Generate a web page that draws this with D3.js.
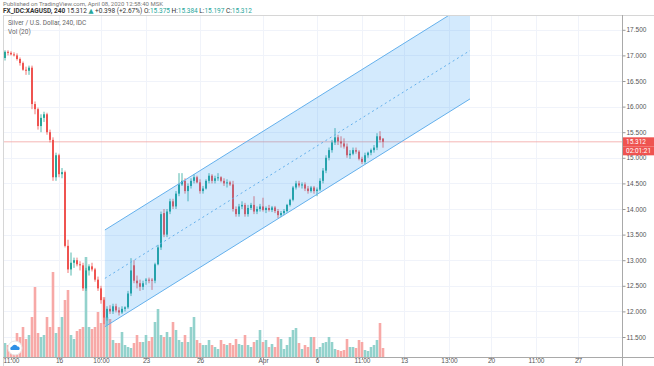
<!DOCTYPE html>
<html>
<head>
<meta charset="utf-8">
<script src="https://cdn.jsdelivr.net/npm/d3@7"></script>
<style>
  body { margin: 0; background: #fff; }
  svg { display: block; font-family: Roboto, "DejaVu Sans", sans-serif; }
</style>
</head>
<body>
<div id="chart"></div>
<script>
// 4h bars, XAGUSD, [open, high, low, close]
const candles = [
  [16.95,17.10,16.90,17.07],[17.07,17.10,17.00,17.05],[17.05,17.08,17.00,17.02],[17.02,17.06,16.98,17.00],
  [17.00,17.04,16.90,16.93],[16.93,16.96,16.80,16.85],[16.85,16.88,16.70,16.72],[16.72,16.78,16.62,16.70],
  [16.70,16.80,16.62,16.76],[16.76,16.80,15.95,16.05],[16.05,16.10,15.85,15.95],[15.95,15.98,15.55,15.62],
  [15.62,15.85,15.50,15.78],[15.78,15.90,15.70,15.85],[15.85,15.88,15.45,15.50],[15.50,15.55,15.30,15.35],
  [15.35,15.40,14.55,14.62],[14.62,15.10,14.55,15.05],[15.05,15.08,14.62,14.68],[14.68,14.80,14.60,14.72],
  [14.72,14.75,13.25,13.28],[13.28,13.40,12.75,12.82],[12.82,13.15,12.70,12.95],[12.95,13.05,12.85,13.00],
  [13.00,13.05,12.88,12.92],[12.92,12.98,12.80,12.90],[12.90,12.95,12.40,12.45],[12.45,12.85,12.40,12.80],
  [12.80,12.92,12.70,12.88],[12.88,12.95,12.78,12.82],[12.82,12.85,12.58,12.62],[12.62,12.68,12.40,12.45],
  [12.45,12.50,12.15,12.22],[12.22,12.25,11.75,11.88],[11.88,12.10,11.82,12.05],[12.05,12.12,11.95,12.00],
  [12.00,12.15,11.95,12.10],[12.10,12.15,11.98,12.02],[12.02,12.08,11.92,11.98],[11.98,12.10,11.95,12.05],
  [12.05,12.10,12.00,12.08],[12.08,12.40,12.05,12.35],[12.35,13.04,12.30,12.80],[12.90,13.00,12.55,12.60],
  [12.60,12.70,12.45,12.55],[12.55,12.62,12.40,12.48],[12.48,12.60,12.42,12.55],[12.60,12.65,12.52,12.62],
  [12.62,12.66,12.55,12.60],[12.62,12.65,12.42,12.60],[12.60,12.95,12.55,12.92],[12.92,13.30,12.90,13.25],
  [13.25,13.95,13.20,13.90],[13.92,14.00,13.45,13.50],[13.50,14.00,13.45,13.95],[13.95,14.20,13.90,14.15],
  [14.15,14.20,14.00,14.05],[14.05,14.35,14.00,14.30],[14.30,14.70,14.25,14.48],[14.48,14.70,14.45,14.55],
  [14.55,14.60,14.30,14.35],[14.35,14.50,14.15,14.45],[14.45,14.60,14.40,14.55],[14.55,14.68,14.50,14.62],
  [14.62,14.65,14.50,14.52],[14.52,14.58,14.30,14.35],[14.35,14.45,14.30,14.40],[14.40,14.58,14.38,14.55],
  [14.55,14.70,14.50,14.65],[14.65,14.68,14.50,14.55],[14.55,14.65,14.50,14.60],[14.60,14.70,14.55,14.62],
  [14.62,14.64,14.52,14.55],[14.55,14.60,14.45,14.50],[14.50,14.58,14.42,14.52],[14.52,14.55,14.45,14.48],
  [14.48,14.55,13.95,14.00],[14.00,14.05,13.85,13.90],[13.90,14.10,13.85,14.05],[14.05,14.15,14.00,14.08],
  [14.08,14.12,13.85,13.90],[13.90,14.08,13.85,14.02],[14.02,14.12,13.98,14.08],[14.08,14.25,13.90,13.95],
  [13.95,14.05,13.90,14.00],[14.00,14.10,13.95,14.05],[14.05,14.22,13.95,13.98],[13.98,14.05,13.92,14.02],
  [14.02,14.08,13.95,13.98],[13.98,14.06,13.94,14.03],[14.03,14.06,13.92,13.96],[13.96,14.00,13.82,13.88],
  [13.88,13.96,13.84,13.92],[13.92,14.00,13.88,13.96],[13.96,14.10,13.93,14.08],[14.08,14.20,14.05,14.18],
  [14.18,14.45,14.15,14.42],[14.42,14.55,14.38,14.50],[14.50,14.55,14.42,14.46],[14.46,14.52,14.40,14.48],
  [14.48,14.52,14.35,14.40],[14.40,14.45,14.30,14.35],[14.35,14.45,14.32,14.42],[14.42,14.45,14.30,14.35],
  [14.35,14.42,14.25,14.38],[14.38,14.60,14.35,14.55],[14.55,14.80,14.50,14.75],[14.75,15.05,14.70,15.00],
  [15.00,15.20,14.95,15.15],[15.15,15.35,15.10,15.30],[15.30,15.58,15.25,15.40],[15.40,15.45,15.25,15.32],
  [15.32,15.42,15.20,15.28],[15.28,15.38,15.18,15.22],[15.22,15.28,15.00,15.05],[15.05,15.15,14.98,15.08],
  [15.08,15.20,15.05,15.15],[15.15,15.20,15.08,15.12],[15.12,15.15,14.95,14.98],[14.98,15.02,14.88,14.92],
  [14.92,15.10,14.88,15.05],[15.05,15.12,15.00,15.10],[15.10,15.18,15.05,15.15],[15.15,15.25,15.10,15.20],
  [15.20,15.48,15.15,15.42],[15.42,15.52,15.30,15.35],[15.375,15.384,15.197,15.312]
];

const volumes = [
  14,12,10,16,24,20,30,18,22,40,70,24,20,22,40,30,
  85,24,30,40,57,67,22,18,26,28,30,100,30,28,30,45,
  34,60,40,38,17,14,14,25,12,10,9,14,22,15,15,22,
  16,20,35,48,22,20,25,20,35,27,17,15,22,15,30,40,
  17,14,12,12,17,12,10,8,17,13,12,14,12,18,13,12,
  22,12,10,15,17,27,15,17,10,13,10,20,18,8,12,20,
  27,29,14,8,12,10,20,20,8,10,14,15,20,15,8,7,
  6,7,18,10,10,9,17,15,7,6,10,12,17,34,9
];

const priceTicks = [11.5, 12, 12.5, 13, 13.5, 14, 14.5, 15, 15.5, 16, 16.5, 17, 17.5];

const timeTicks = [
  { bar: 2, label: "11:00" }, { bar: 18, label: "16" }, { bar: 32, label: "10:00" },
  { bar: 47, label: "23" }, { bar: 65, label: "26" }, { bar: 86, label: "Apr" },
  { bar: 104, label: "6" }, { bar: 119, label: "11:00" }, { bar: 133, label: "13" },
  { bar: 148, label: "13:00" }, { bar: 162, label: "20" }, { bar: 177, label: "11:00" },
  { bar: 191, label: "27" }
];

// parallel channel anchors: bar index, lower price, upper price
const channelBars = [33.3, 155];
const channelLower = [11.70, 16.15];
const channelUpper = [13.59, 18.04];

const lastPrice = 15.312;
const countdown = "02:01:21";

const W = 654, H = 366;
const up = "#26a69a", down = "#ef5350";
const upVol = "#93d2cc", downVol = "#f7a9a7";

const svg = d3.select("#chart").append("svg")
  .attr("width", W).attr("height", H);

const pane = { left: 3, top: 15, right: 622, bottom: 357 };

const x = d3.scaleLinear().domain([0, 126]).range([5, 383]);
const y = d3.scaleLinear().domain([11.5, 17.5]).range([337, 29.8]);
const yVol = d3.scaleLinear().domain([0, 105]).range([pane.bottom, pane.bottom - 105]);

svg.append("defs").append("clipPath").attr("id", "clip")
  .append("rect")
  .attr("x", pane.left).attr("y", pane.top)
  .attr("width", pane.right - pane.left).attr("height", pane.bottom - pane.top);

// grid
const grid = svg.append("g").attr("clip-path", "url(#clip)");
grid.selectAll(".hg").data(priceTicks).enter().append("line")
  .attr("x1", pane.left).attr("x2", pane.right)
  .attr("y1", d => Math.round(y(d)) + 0.5).attr("y2", d => Math.round(y(d)) + 0.5)
  .attr("stroke", "#f0f3fa");
grid.selectAll(".vg").data(timeTicks).enter().append("line")
  .attr("x1", d => Math.round(x(d.bar)) + 0.5).attr("x2", d => Math.round(x(d.bar)) + 0.5)
  .attr("y1", pane.top).attr("y2", pane.bottom)
  .attr("stroke", "#f0f3fa");

const plot = svg.append("g").attr("clip-path", "url(#clip)");

// volume
plot.selectAll(".vol").data(volumes).enter().append("rect")
  .attr("x", (d, i) => x(i) - 1.3)
  .attr("width", 2.6)
  .attr("y", d => yVol(d))
  .attr("height", d => pane.bottom - yVol(d))
  .attr("fill", (d, i) => candles[i][3] >= candles[i][0] ? upVol : downVol);

// last price line
plot.append("line")
  .attr("x1", pane.left).attr("x2", pane.right)
  .attr("y1", y(lastPrice)).attr("y2", y(lastPrice))
  .attr("stroke", "#f3a3a1").attr("stroke-width", 0.8);

// candles
const c = plot.selectAll(".candle").data(candles).enter().append("g");
c.append("line")
  .attr("x1", (d, i) => x(i)).attr("x2", (d, i) => x(i))
  .attr("y1", d => y(d[1])).attr("y2", d => y(d[2]))
  .attr("stroke", d => d[3] >= d[0] ? up : down).attr("stroke-width", 0.8);
c.append("rect")
  .attr("x", (d, i) => x(i) - 1)
  .attr("width", 2)
  .attr("y", d => y(Math.max(d[0], d[3])))
  .attr("height", d => Math.max(0.8, Math.abs(y(d[0]) - y(d[3]))))
  .attr("fill", d => d[3] >= d[0] ? up : down);

// channel
const xl = x(channelBars[0]), xr = x(channelBars[1]);
plot.append("path")
  .attr("d", `M${xl},${y(channelUpper[0])}L${xr},${y(channelUpper[1])}L${xr},${y(channelLower[1])}L${xl},${y(channelLower[0])}Z`)
  .attr("fill", "rgba(33,150,243,0.2)");
[channelLower, channelUpper].forEach(line => {
  plot.append("line")
    .attr("x1", xl).attr("y1", y(line[0]))
    .attr("x2", xr).attr("y2", y(line[1]))
    .attr("stroke", "#64b0ec").attr("stroke-width", 1);
});
plot.append("line")
  .attr("x1", xl).attr("y1", y((channelLower[0] + channelUpper[0]) / 2))
  .attr("x2", xr).attr("y2", y((channelLower[1] + channelUpper[1]) / 2))
  .attr("stroke", "#64b0ec").attr("stroke-width", 1).attr("stroke-dasharray", "2,3");

// pane borders
svg.append("line").attr("x1", pane.left + 0.5).attr("x2", pane.left + 0.5)
  .attr("y1", pane.top).attr("y2", H).attr("stroke", "#d6d6d6");
svg.append("line").attr("x1", pane.left).attr("x2", W)
  .attr("y1", pane.top + 0.5).attr("y2", pane.top + 0.5).attr("stroke", "#d6d6d6");
svg.append("line").attr("x1", pane.right + 0.5).attr("x2", pane.right + 0.5)
  .attr("y1", pane.top).attr("y2", H).attr("stroke", "#a9a9a9");
svg.append("line").attr("x1", pane.left).attr("x2", W)
  .attr("y1", pane.bottom + 0.5).attr("y2", pane.bottom + 0.5).attr("stroke", "#a9a9a9");

// right price axis
const yAxis = d3.axisRight(y).tickValues(priceTicks).tickSize(3).tickFormat(d3.format(".3f"));
const ya = svg.append("g").attr("transform", `translate(${pane.right + 0.5},0)`).call(yAxis);
ya.select(".domain").remove();
ya.selectAll("line").attr("stroke", "#999");
ya.selectAll("text").attr("fill", "#555").attr("font-size", 6.5).attr("x", 4);

// bottom time axis
const xAxis = d3.axisBottom(x).tickValues(timeTicks.map(d => d.bar)).tickSize(2)
  .tickFormat((d, i) => timeTicks[i].label);
const xa = svg.append("g").attr("transform", `translate(0,${pane.bottom + 0.5})`).call(xAxis);
xa.select(".domain").remove();
xa.selectAll("line").attr("stroke", "#999");
xa.selectAll("text").attr("fill", "#555").attr("font-size", 6.5).attr("dy", "0.55em").attr("y", 2);

// price + countdown labels
const ly = y(lastPrice);
svg.append("rect").attr("x", pane.right + 1).attr("y", ly - 4.5).attr("width", 31).attr("height", 9).attr("fill", down);
svg.append("text").attr("x", pane.right + 4).attr("y", ly + 2.3)
  .attr("font-size", 6.5).attr("fill", "#fff").text(d3.format(".3f")(lastPrice));
svg.append("rect").attr("x", pane.right + 1).attr("y", ly + 4.5).attr("width", 31).attr("height", 9).attr("fill", down);
svg.append("text").attr("x", pane.right + 4).attr("y", ly + 11.3)
  .attr("font-size", 6.5).attr("fill", "#fff").text(countdown);

// header
svg.append("text").attr("x", 3).attr("y", 5.5).attr("font-size", 6).attr("fill", "#777")
  .text("Published on TradingView.com, April 08, 2020 12:58:40 MSK");
const hdr = svg.append("text").attr("x", 3).attr("y", 12.5).attr("font-size", 6.5).attr("fill", "#333");
hdr.append("tspan").attr("font-weight", "bold").text("FX_IDC:XAGUSD, 240 ");
hdr.append("tspan").text("15.312 ");
hdr.append("tspan").attr("fill", up).text("▲ ");
hdr.append("tspan").text("+0.398 (+2.67%) O:");
hdr.append("tspan").attr("fill", up).text("15.375");
hdr.append("tspan").text(" H:");
hdr.append("tspan").attr("fill", up).text("15.384");
hdr.append("tspan").text(" L:");
hdr.append("tspan").attr("fill", up).text("15.197");
hdr.append("tspan").text(" C:");
hdr.append("tspan").attr("fill", up).text("15.312");

svg.append("text").attr("x", 8).attr("y", 25).attr("font-size", 6.5).attr("fill", "#666")
  .text("Silver / U.S. Dollar, 240, IDC");
svg.append("text").attr("x", 8).attr("y", 34).attr("font-size", 6.5).attr("fill", "#666")
  .text("Vol (20)");

// logo badge
const logo = svg.append("g").attr("transform", "translate(15,348)");
logo.append("circle").attr("r", 7).attr("fill", "#fff").attr("stroke", "#e6e6e6");
logo.append("path")
  .attr("d", "M-4,2 a2,2 0 0 1 1,-3.5 a3,3 0 0 1 5.5,0 a2,2 0 0 1 1.5,3.5 Z")
  .attr("fill", "#2e8fe6");
</script>
</body>
</html>
